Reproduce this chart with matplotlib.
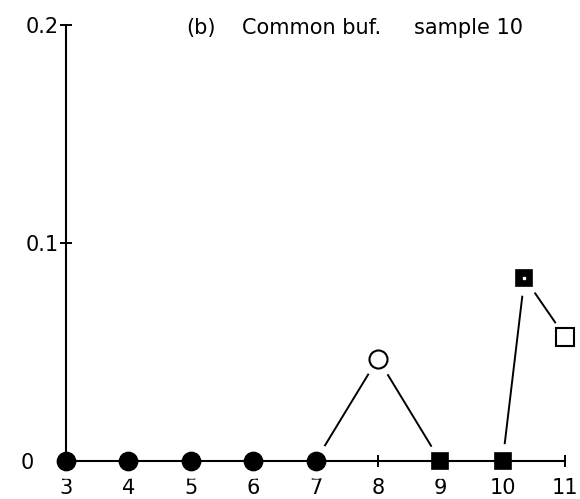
import matplotlib
matplotlib.use("Agg")
import matplotlib.pyplot as plt
from matplotlib.transforms import ScaledTranslation

# Data
x_vals = [3, 4, 5, 6, 7, 8, 9, 10, 10.35, 11]
y_vals = [0, 0, 0, 0, 0, 0.047, 0, 0, 0.084, 0.057]
marker_kind = ["fc", "fc", "fc", "fc", "fc", "oc", "fs", "fs", "fs", "os"]
x_ticks = [3, 4, 5, 6, 7, 8, 9, 10, 11]
y_ticks = [0, 0.1, 0.2]
y_tick_labels = ["0", "0.1", "0.2"]
title_parts = ["(b)", "Common buf.", "sample 10"]

fig = plt.figure(figsize=(5.8, 4.99), dpi=100)
ax = fig.add_axes([0.1138, 0.0762, 0.8604, 0.8738])

ax.set_xlim(3, 11)
ax.set_ylim(0, 0.2)

# connecting line
ax.plot(x_vals, y_vals, color="black", lw=1.4, zorder=1, clip_on=False)

# white halos creating gaps between lines and markers
ax.plot(x_vals, y_vals, ls="none", marker="o", ms=24, mfc="white", mec="white",
        zorder=2, clip_on=False)

styles = {
    "fc": dict(marker="o", ms=13, mfc="black", mec="black", mew=1.2),
    "oc": dict(marker="o", ms=13, mfc="white", mec="black", mew=1.5),
    "fs": dict(marker="s", ms=12, mfc="black", mec="black", mew=1.2),
    "os": dict(marker="s", ms=12.5, mfc="white", mec="black", mew=1.5),
}
for xv, yv, k in zip(x_vals, y_vals, marker_kind):
    ax.plot([xv], [yv], ls="none", zorder=4, clip_on=False, **styles[k])
# tiny white dot in the raised square
ax.plot([x_vals[8]], [y_vals[8]], ls="none", marker="s", ms=1.8, mfc="white",
        mec="white", zorder=5, clip_on=False)

for s in ["top", "right"]:
    ax.spines[s].set_visible(False)
for s in ["left", "bottom"]:
    ax.spines[s].set_linewidth(1.5)
    ax.spines[s].set_zorder(3)

ax.set_xticks(x_ticks)
ax.set_xticklabels([str(v) for v in x_ticks])
ax.set_yticks(y_ticks)
ax.set_yticklabels(y_tick_labels)
ax.tick_params(axis="both", direction="inout", length=9, width=1.4, labelsize=15)
ax.tick_params(axis="y", pad=1)
ax.tick_params(axis="x", pad=7.5)

# the "0" label sits further left in the reference
lbl0 = ax.get_yticklabels()[0]
lbl0.set_transform(lbl0.get_transform() + ScaledTranslation(-24 / 100, 0, fig.dpi_scale_trans))

title_x = [0.241, 0.353, 0.698]
for tx, part in zip(title_x, title_parts):
    ax.text(tx, 0.993, part, transform=ax.transAxes, fontsize=15,
            ha="left", va="center")

fig.savefig("out.png", dpi=100)
